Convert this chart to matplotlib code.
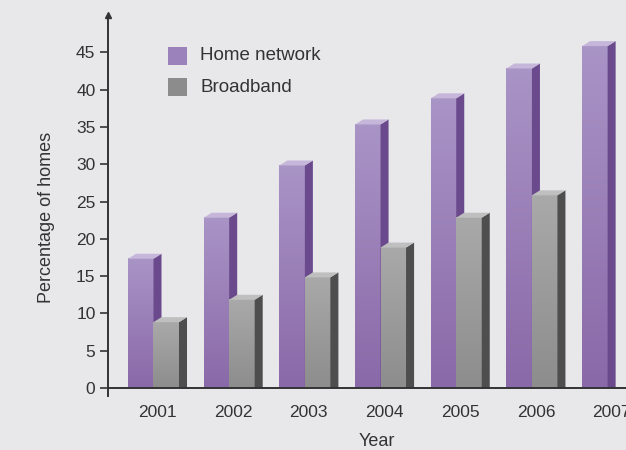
import matplotlib.pyplot as plt
import numpy as np
from matplotlib.patches import Polygon, Rectangle
from matplotlib.colors import LinearSegmentedColormap

years = ['2001', '2002', '2003', '2004', '2005', '2006', '2007']
home_network = [18, 23.5, 30.5, 36, 39.5, 43.5, 46.5]
broadband = [9.5, 12.5, 15.5, 19.5, 23.5, 26.5]

plt.rcParams['font.family'] = ['Liberation Sans', 'DejaVu Sans']
text_c = '#333333'
bg = '#e8e8eb'

# front (top, bottom), side, top-face colours
purple = ('#a994c6', '#8a69a8', '#6a4a8c', '#c6b6da')
grey = ('#a9a9a9', '#8d8d8d', '#4e4e4e', '#bfbfbf')

W = 0.337     # bar front width (category units)
DX = 0.106    # depth offset in x
DY = 0.67     # depth offset in y


def bar3d(ax, x0, h, colors):
    c_top, c_bot, c_side, c_cap = colors
    hf = h - DY
    cmap = LinearSegmentedColormap.from_list('g', [c_bot, c_top])
    grad = np.linspace(1, 0, 64).reshape(-1, 1)
    ax.imshow(grad, cmap=cmap, vmin=0, vmax=1, aspect='auto',
              extent=(x0, x0 + W, 0, hf), zorder=2, interpolation='bilinear')
    side = Polygon([(x0 + W, 0), (x0 + W + DX, 0), (x0 + W + DX, h), (x0 + W, hf)],
                   closed=True, fc=c_side, ec='none', zorder=2)
    cap = Polygon([(x0, hf), (x0 + W, hf), (x0 + W + DX, h), (x0 + DX, h)],
                  closed=True, fc=c_cap, ec='none', zorder=2)
    ax.add_patch(side)
    ax.add_patch(cap)


fig = plt.figure(figsize=(6.26, 4.5), dpi=100, facecolor=bg)
ax = fig.add_axes([108 / 626, 1 - 395.5 / 450, 1 - 108 / 626, 380.5 / 450])
ax.set_facecolor(bg)

for i in range(len(years)):
    bar3d(ax, i - 0.39, home_network[i], purple)
    if i < len(broadband):
        bar3d(ax, i - 0.053, broadband[i], grey)

ax.set_xlim(-0.654, 6.19)
ax.set_ylim(-1, 50)

for s in ['top', 'right', 'bottom']:
    ax.spines[s].set_visible(False)
ax.spines['left'].set_color(text_c)
ax.spines['left'].set_linewidth(1.4)
ax.axhline(0, color=text_c, lw=1.4, zorder=3)
ax.plot([0], [1.0], marker='^', ms=5, color=text_c, transform=ax.transAxes,
        clip_on=False, zorder=4)

ax.set_yticks(range(0, 50, 5))
ax.tick_params(axis='y', direction='out', length=6, width=1.2, color=text_c,
               labelcolor=text_c, labelsize=12.5, pad=3)
ax.set_xticks(range(len(years)))
ax.set_xticklabels(years)
ax.tick_params(axis='x', length=0, labelcolor=text_c, labelsize=12.5, pad=7)

fig.text(47 / 626, 1 - 217 / 450, 'Percentage of homes', rotation=90,
         ha='center', va='center', fontsize=13, color=text_c)
fig.text(377 / 626, 1 - 441 / 450, 'Year', ha='center', va='center',
         fontsize=13, color=text_c)

# legend
legend_items = [('Home network', '#9c82ba', 56), ('Broadband', '#8c8c8c', 87)]
for label, c, yc in legend_items:
    fig.patches.append(Rectangle((168 / 626, 1 - (yc + 9) / 450), 19 / 626, 18 / 450,
                                 transform=fig.transFigure, fc=c, ec='none'))
    fig.text(200 / 626, 1 - yc / 450, label, ha='left', va='center',
             fontsize=13.5, color=text_c)

fig.savefig('out.png', dpi=100, facecolor=bg)
